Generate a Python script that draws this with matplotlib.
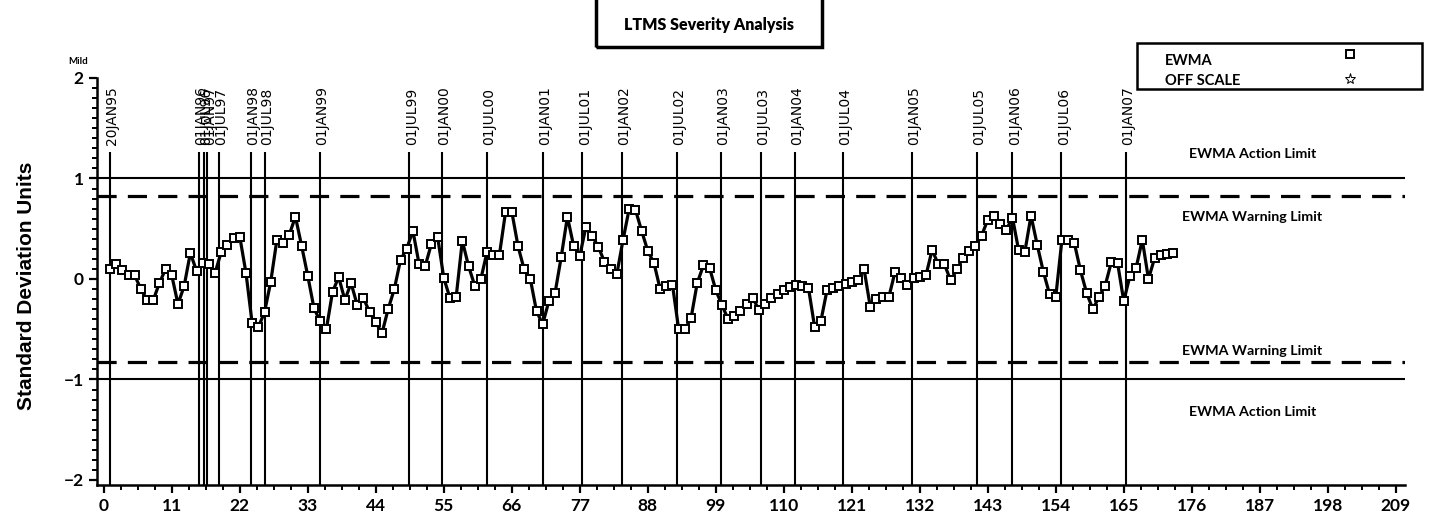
import numpy as np
import matplotlib
matplotlib.use("Agg")
import matplotlib.pyplot as plt
from matplotlib.lines import Line2D
from matplotlib.patches import Rectangle
from matplotlib.ticker import MultipleLocator

plt.rcParams['font.family'] = ['Lato', 'DejaVu Sans']

# EWMA values, one per test (test 1..173)
ewma = [0.10, 0.15, 0.09, 0.035, 0.035, -0.10, -0.21, -0.21, -0.04, 0.10,
        0.035, -0.25, -0.07, 0.26, 0.08, 0.16, 0.145, 0.06, 0.27, 0.34,
        0.41, 0.42, 0.06, -0.44, -0.48, -0.33, -0.03, 0.39, 0.36, 0.44,
        0.62, 0.33, 0.03, -0.29, -0.42, -0.50, -0.13, 0.02, -0.21, -0.04,
        -0.26, -0.19, -0.33, -0.43, -0.54, -0.30, -0.10, 0.19, 0.30, 0.48,
        0.15, 0.13, 0.35, 0.42, 0.01, -0.19, -0.18, 0.38, 0.13, -0.065,
        0.00, 0.27, 0.24, 0.24, 0.67, 0.67, 0.33, 0.095, 0.00, -0.32,
        -0.45, -0.22, -0.14, 0.22, 0.62, 0.33, 0.23, 0.52, 0.43, 0.32,
        0.17, 0.095, 0.05, 0.39, 0.70, 0.69, 0.48, 0.28, 0.16, -0.10,
        -0.07, -0.06, -0.50, -0.50, -0.39, -0.04, 0.135, 0.11, -0.11, -0.26,
        -0.40, -0.37, -0.32, -0.25, -0.19, -0.31, -0.25, -0.19, -0.15, -0.11,
        -0.08, -0.06, -0.07, -0.09, -0.48, -0.42, -0.11, -0.09, -0.07, -0.05,
        -0.03, -0.01, 0.095, -0.28, -0.20, -0.18, -0.18, 0.07, 0.01, -0.055,
        0.01, 0.02, 0.035, 0.29, 0.145, 0.145, -0.015, 0.095, 0.21, 0.28,
        0.33, 0.43, 0.59, 0.63, 0.55, 0.49, 0.61, 0.285, 0.27, 0.63,
        0.34, 0.07, -0.15, -0.18, 0.39, 0.39, 0.36, 0.085, -0.14, -0.30,
        -0.18, -0.065, 0.17, 0.16, -0.22, 0.03, 0.11, 0.39, 0.0, 0.21,
        0.24, 0.25, 0.26]
test_no = np.arange(1, len(ewma) + 1)

# date reference lines (test position) and their labels
date_pos = [1.0, 15.4, 16.2, 16.75, 18.6, 23.8, 26.0, 34.9, 49.4, 54.7,
            62.0, 71.0, 77.4, 83.8, 92.7, 99.8, 106.3, 111.8, 119.6, 130.7,
            141.2, 147.0, 154.9, 165.3]
date_labels = ['20JAN95', '01JAN96', '01JUL96', '01JAN97', '01JUL97', '01JAN98',
               '01JUL98', '01JAN99', '01JUL99', '01JAN00', '01JUL00', '01JAN01',
               '01JUL01', '01JAN02', '01JUL02', '01JAN03', '01JUL03', '01JAN04',
               '01JUL04', '01JAN05', '01JUL05', '01JAN06', '01JUL06', '01JAN07']

action_limit = 1.0
warning_limit = 0.83

W, H = 1430, 520
fig = plt.figure(figsize=(W / 100, H / 100), dpi=100)
ax = fig.add_axes([97 / W, 35 / H, (1405 - 97) / W, (485 - 78) / H])
ax.set_xlim(-1.1, 210.5)
ax.set_ylim(-2.05, 2.0)

# limits
for s in (1, -1):
    ax.axhline(s * action_limit, color='black', lw=1.5)
    ax.axhline(s * warning_limit, color='black', lw=2.3, dashes=(6, 3.5))

# date lines + labels
ax.vlines(date_pos, -2.05, 1.26, color='black', lw=1.5)
for xp, lab in zip(date_pos, date_labels):
    ax.text(xp + 0.4, 1.33, lab, rotation=90, ha='center', va='bottom',
            fontsize=10, family='DejaVu Sans')

# EWMA series
ax.plot(test_no, ewma, color='black', lw=2.3, marker='s', ms=5.3,
        mfc='white', mec='black', mew=1.4, zorder=5)

# limit annotations
lab_x = 185.8
for yv, txt in [(1.24, 'EWMA Action Limit'), (0.62, 'EWMA Warning Limit'),
                (-0.72, 'EWMA Warning Limit'), (-1.32, 'EWMA Action Limit')]:
    ax.text(lab_x, yv, txt, ha='center', va='center', fontsize=10.3, weight='bold')

# axes styling
for side in ('top', 'right'):
    ax.spines[side].set_visible(False)
ax.spines['left'].set_linewidth(1.8)
ax.spines['bottom'].set_linewidth(1.8)
ax.xaxis.set_major_locator(MultipleLocator(11))
ax.xaxis.set_minor_locator(MultipleLocator(2.75))
ax.yaxis.set_major_locator(MultipleLocator(1))
ax.yaxis.set_minor_locator(MultipleLocator(0.1))
ax.tick_params(which='major', direction='out', length=6, width=1.6, labelsize=12.5)
ax.tick_params(which='minor', direction='out', length=3.5, width=1.4)
for t in ax.get_xticklabels() + ax.get_yticklabels():
    t.set_fontweight('bold')

ax.set_ylabel('Standard Deviation Units', fontsize=15, weight='heavy',
              family=['Liberation Sans', 'DejaVu Sans'])
ax.yaxis.set_label_coords(-0.047, 0.49)
fig.text(78 / W, 1 - 62 / H, 'Mild', fontsize=7, weight='bold', ha='center', va='center')

# title box
fig.add_artist(Rectangle((596 / W, 1 - 47 / H), (822 - 596) / W, 60 / H,
                         transform=fig.transFigure, fill=False, lw=2.5, color='black'))
fig.text(709 / W, 1 - 25 / H, 'LTMS Severity Analysis', ha='center', va='center',
         fontsize=11.5, weight='heavy')

# legend box
fig.add_artist(Rectangle((1137 / W, 1 - 89 / H), (1422 - 1137) / W, (89 - 43) / H,
                         transform=fig.transFigure, fill=False, lw=1.8, color='black'))
fig.text(1165 / W, 1 - 61 / H, 'EWMA', fontsize=10.5, weight='bold', ha='left', va='center')
fig.text(1165 / W, 1 - 81 / H, 'OFF SCALE', fontsize=10.5, weight='bold', ha='left', va='center')
fig.add_artist(Line2D([1350 / W], [1 - 54 / H], transform=fig.transFigure, marker='s',
                      ms=5.3, mfc='white', mec='black', mew=1.4, ls='none'))
fig.add_artist(Line2D([1350 / W], [1 - 79 / H], transform=fig.transFigure, marker='*',
                      ms=8, mfc='white', mec='black', mew=0.7, ls='none'))

fig.savefig('out.png', dpi=100)
